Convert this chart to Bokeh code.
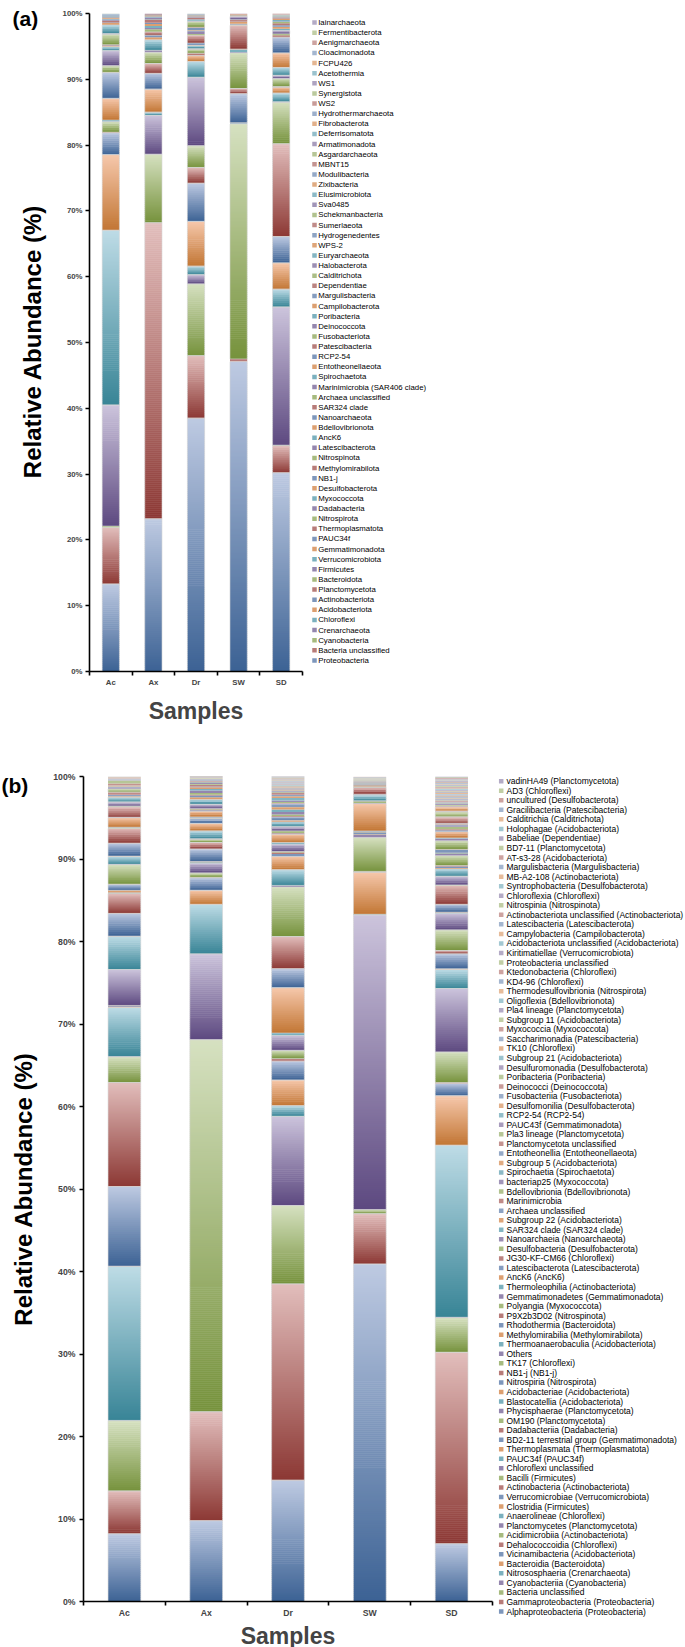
import math
from bokeh.plotting import figure
from bokeh.models import ColumnDataSource, Range1d, FixedTicker, PrintfTickFormatter
from bokeh.layouts import column, row
from bokeh.embed import file_html
from bokeh.resources import INLINE
from bokeh.core.properties import value

FONT = "Liberation Sans"

samples = ["Ac", "Ax", "Dr", "SW", "SD"]

# ---------------- panel (a): phyla, bottom -> top ----------------
phyla = ["Proteobacteria", "Bacteria unclassified", "Cyanobacteria", "Crenarchaeota", "Chloroflexi",
         "Acidobacteriota", "Actinobacteriota", "Planctomycetota", "Bacteroidota", "Firmicutes",
         "Verrucomicrobiota", "Gemmatimonadota", "PAUC34f", "Thermoplasmatota", "Nitrospirota",
         "Dadabacteria", "Myxococcota", "Desulfobacterota", "NB1-j", "Methylomirabilota",
         "Nitrospinota", "Latescibacterota", "AncK6", "Bdellovibrionota", "Nanoarchaeota",
         "SAR324 clade", "Archaea unclassified", "Marinimicrobia (SAR406 clade)", "Spirochaetota",
         "Entotheonellaeota", "RCP2-54", "Patescibacteria", "Fusobacteriota", "Deinococcota",
         "Poribacteria", "Campilobacterota", "Margulisbacteria", "Dependentiae", "Calditrichota",
         "Halobacterota", "Euryarchaeota", "WPS-2", "Hydrogenedentes", "Sumerlaeota",
         "Schekmanbacteria", "Sva0485", "Elusimicrobiota", "Zixibacteria", "Modulibacteria",
         "MBNT15", "Asgardarchaeota", "Armatimonadota", "Deferrisomatota", "Fibrobacterota",
         "Hydrothermarchaeota", "WS2", "Synergistota", "WS1", "Acetothermia", "FCPU426",
         "Cloacimonadota", "Aenigmarchaeota", "Fermentibacterota", "Iainarchaeota"]

a_ac = [13.3, 8.6, 0.2, 18.4, 26.55, 11.5, 3.3, 0.1, 1.6, 0.05,
        0.2, 3.3, 3.9, 0.05, 1.0, 2.3, 0.6, 0.1, 0.1, 0.1,
        1.6, 0.1, 1.3, 0.3, 0.1, 0.2, 0.05, 0.2, 0.1, 0.2,
        0.05, 0.05, 0.02, 0.02, 0.15, 0.02, 0.01, 0.02, 0.01, 0.01,
        0.02, 0.01, 0.01, 0.01, 0.01, 0.01, 0.02, 0.01, 0.01, 0.01,
        0.01, 0.01, 0.01, 0.01, 0.01, 0.01, 0.01, 0.01, 0.01, 0.01,
        0.01, 0.01, 0.01, 0.01]
a_ax = [23.2, 45.0, 10.4, 5.9, 0.5, 3.5, 2.4, 1.5, 1.7, 0.3,
        1.6, 0.4, 0.3, 0.5, 0.4, 0.2, 0.3, 0.3, 0.2, 0.4,
        0.1, 0.3, 0.1, 0.1, 0.05, 0.1, 0.02, 0.1, 0.02, 0.02,
        0.01, 0.01, 0.01, 0.01, 0.01, 0.01, 0.01, 0.01, 0.01, 0.0,
        0.0, 0.0, 0.0, 0.0, 0.0, 0.0, 0.0, 0.0, 0.0, 0.0,
        0.0, 0.0, 0.0, 0.0, 0.0, 0.0, 0.0, 0.0, 0.0, 0.0,
        0.0, 0.0, 0.0, 0.0]
a_dr = [38.5, 9.5, 10.9, 1.4, 1.3, 6.8, 5.8, 2.4, 3.3, 10.4,
        2.4, 0.9, 0.05, 0.3, 0.6, 0.1, 0.5, 0.05, 0.3, 1.2,
        0.2, 0.4, 0.1, 0.1, 0.3, 0.1, 0.9, 0.1, 0.1, 0.1,
        0.05, 0.2, 0.05, 0.05, 0.05, 0.05, 0.05, 0.1, 0.02, 0.02,
        0.02, 0.01, 0.02, 0.01, 0.02, 0.01, 0.02, 0.01, 0.01, 0.01,
        0.01, 0.01, 0.01, 0.01, 0.01, 0.01, 0.01, 0.01, 0.01, 0.01,
        0.01, 0.01, 0.01, 0.01]
a_sw = [47.1, 0.4, 35.7, 0.1, 0.05, 0.05, 4.4, 0.8, 5.4, 0.1,
        0.4, 0.05, 0.05, 3.6, 0.1, 0.05, 0.1, 0.3, 0.05, 0.2,
        0.05, 0.5, 0.05, 0.05, 0.05, 0.05, 0.02, 0.03, 0.02, 0.02,
        0.02, 0.01, 0.01, 0.01, 0.01, 0.01, 0.01, 0.01, 0.01, 0.01,
        0.01, 0.01, 0.01, 0.01, 0.01, 0.0, 0.0, 0.0, 0.0, 0.0,
        0.0, 0.0, 0.0, 0.0, 0.0, 0.0, 0.0, 0.0, 0.0, 0.0,
        0.0, 0.0, 0.0, 0.0]
a_sd = [30.2, 4.1, 0.1, 21.0, 2.7, 4.0, 4.0, 14.1, 6.3, 0.1,
        1.3, 0.9, 0.05, 0.05, 1.2, 0.5, 1.2, 2.2, 2.4, 0.3,
        0.2, 0.5, 0.3, 0.3, 0.2, 0.3, 0.2, 0.1, 0.2, 0.2,
        0.05, 0.05, 0.03, 0.05, 0.05, 0.05, 0.03, 0.03, 0.03, 0.03,
        0.03, 0.03, 0.03, 0.02, 0.02, 0.02, 0.02, 0.02, 0.02, 0.02,
        0.02, 0.02, 0.02, 0.02, 0.02, 0.02, 0.01, 0.01, 0.01, 0.01,
        0.01, 0.01, 0.01, 0.01]

# ---------------- panel (b): classes, bottom -> top ----------------
classes = ["Alphaproteobacteria (Proteobacteria)", "Gammaproteobacteria (Proteobacteria)",
           "Bacteria unclassified", "Cyanobacteriia (Cyanobacteria)", "Nitrososphaeria (Crenarchaeota)",
           "Bacteroidia (Bacteroidota)", "Vicinamibacteria (Acidobacteriota)", "Dehalococcoidia (Chloroflexi)",
           "Acidimicrobiia (Actinobacteriota)", "Planctomycetes (Planctomycetota)", "Anaerolineae (Chloroflexi)",
           "Clostridia (Firmicutes)", "Verrucomicrobiae (Verrucomicrobiota)", "Actinobacteria (Actinobacteriota)",
           "Bacilli (Firmicutes)", "Chloroflexi unclassified", "PAUC34f (PAUC34f)",
           "Thermoplasmata (Thermoplasmatota)", "BD2-11 terrestrial group (Gemmatimonadota)",
           "Dadabacteriia (Dadabacteria)", "OM190 (Planctomycetota)", "Phycisphaerae (Planctomycetota)",
           "Blastocatellia (Acidobacteriota)", "Acidobacteriae (Acidobacteriota)", "Nitrospiria (Nitrospirota)",
           "NB1-j (NB1-j)", "TK17 (Chloroflexi)", "Others", "Thermoanaerobaculia (Acidobacteriota)",
           "Methylomirabilia (Methylomirabilota)", "Rhodothermia (Bacteroidota)", "P9X2b3D02 (Nitrospinota)",
           "Polyangia (Myxococcota)", "Gemmatimonadetes (Gemmatimonadota)", "Thermoleophilia (Actinobacteriota)",
           "AncK6 (AncK6)", "Latescibacterota (Latescibacterota)", "JG30-KF-CM66 (Chloroflexi)",
           "Desulfobacteria (Desulfobacterota)", "Nanoarchaeia (Nanoarchaeota)", "SAR324 clade (SAR324 clade)",
           "Subgroup 22 (Acidobacteriota)", "Archaea unclassified", "Marinimicrobia",
           "Bdellovibrionia (Bdellovibrionota)", "bacteriap25 (Myxococcota)", "Spirochaetia (Spirochaetota)",
           "Subgroup 5 (Acidobacteriota)", "Entotheonellia (Entotheonellaeota)", "Planctomycetota unclassified",
           "Pla3 lineage (Planctomycetota)", "PAUC43f (Gemmatimonadota)", "RCP2-54 (RCP2-54)",
           "Desulfomonilia (Desulfobacterota)", "Fusobacteriia (Fusobacteriota)", "Deinococci (Deinococcota)",
           "Poribacteria (Poribacteria)", "Desulfuromonadia (Desulfobacterota)", "Subgroup 21 (Acidobacteriota)",
           "TK10 (Chloroflexi)", "Saccharimonadia (Patescibacteria)", "Myxococcia (Myxococcota)",
           "Subgroup 11 (Acidobacteriota)", "Pla4 lineage (Planctomycetota)", "Oligoflexia (Bdellovibrionota)",
           "Thermodesulfovibrionia (Nitrospirota)", "KD4-96 (Chloroflexi)", "Ktedonobacteria (Chloroflexi)",
           "Proteobacteria unclassified", "Kiritimatiellae (Verrucomicrobiota)",
           "Acidobacteriota unclassified (Acidobacteriota)", "Campylobacteria (Campilobacterota)",
           "Latescibacteria (Latescibacterota)", "Actinobacteriota unclassified (Actinobacteriota)",
           "Nitrospinia (Nitrospinota)", "Chloroflexia (Chloroflexi)", "Syntrophobacteria (Desulfobacterota)",
           "MB-A2-108 (Actinobacteriota)", "Margulisbacteria (Margulisbacteria)", "AT-s3-28 (Acidobacteriota)",
           "BD7-11 (Planctomycetota)", "Babeliae (Dependentiae)", "Holophagae (Acidobacteriota)",
           "Calditrichia (Calditrichota)", "Gracilibacteria (Patescibacteria)", "uncultured (Desulfobacterota)",
           "AD3 (Chloroflexi)", "vadinHA49 (Planctomycetota)"]

b_ac = [8.2, 5.2, 8.5, 0.05, 18.65, 0.05, 9.65, 12.6, 3.1, 0.05,
        5.95, 0.05, 0.1, 0.05, 0.05, 4.35, 4.0, 0.05, 2.75, 2.4,
        0.05, 0.05, 0.05, 0.25, 0.7, 0.05, 2.35, 0.05, 0.95, 0.05,
        1.55, 1.8, 0.05, 0.05, 0.05, 1.15, 0.05, 1.25, 0.1, 0.5,
        0.6, 0.1, 0.2, 0.3, 0.4, 0.2, 0.1, 0.1, 0.05, 0.2,
        0.3, 0.05, 0.05, 0.02, 0.02, 0.02, 0.01, 0.02, 0.02, 0.01,
        0.02, 0.01, 0.02, 0.01, 0.01, 0.02, 0.01, 0.01, 0.02, 0.01,
        0.01, 0.01, 0.02, 0.01, 0.01, 0.01, 0.01, 0.02, 0.01, 0.01,
        0.01, 0.01, 0.01, 0.01, 0.01, 0.01, 0.01, 0.01]
b_ax = [9.8, 13.2, 45.1, 10.4, 6.0, 1.7, 1.5, 0.05, 0.55, 1.2,
        0.1, 0.1, 1.5, 0.8, 0.4, 0.05, 0.95, 0.9, 0.6, 0.05,
        0.05, 0.05, 0.05, 0.7, 0.1, 0.1, 0.1, 0.5, 0.6, 0.3,
        0.2, 0.1, 0.2, 0.3, 0.2, 0.2, 0.1, 0.2, 0.1, 0.1,
        0.1, 0.05, 0.05, 0.05, 0.05, 0.05, 0.02, 0.02, 0.02, 0.02,
        0.02, 0.02, 0.02, 0.02, 0.01, 0.01, 0.02, 0.01, 0.01, 0.01,
        0.01, 0.01, 0.01, 0.02, 0.01, 0.01, 0.01, 0.01, 0.01, 0.01,
        0.01, 0.01, 0.01, 0.01, 0.01, 0.01, 0.01, 0.01, 0.01, 0.01,
        0.01, 0.01, 0.01, 0.01, 0.01, 0.01, 0.01, 0.01]
b_dr = [14.7, 23.8, 9.5, 10.8, 1.3, 3.1, 2.3, 0.3, 1.0, 1.8,
        0.3, 5.5, 2.3, 3.9, 6.0, 0.2, 1.9, 1.6, 0.3, 0.2,
        0.1, 0.9, 0.2, 1.0, 0.1, 0.05, 0.25, 0.5, 0.6, 0.2,
        0.4, 0.1, 0.2, 0.3, 0.3, 0.3, 0.4, 0.1, 0.1, 0.2,
        0.3, 0.2, 0.2, 0.2, 0.1, 0.1, 0.1, 0.1, 0.05, 0.05,
        0.05, 0.08, 0.05, 0.05, 0.04, 0.05, 0.06, 0.04, 0.05, 0.04,
        0.05, 0.04, 0.03, 0.05, 0.04, 0.03, 0.04, 0.05, 0.03, 0.04,
        0.03, 0.04, 0.03, 0.05, 0.03, 0.04, 0.03, 0.04, 0.03, 0.05,
        0.04, 0.03, 0.05, 0.04, 0.03, 0.05, 0.04, 0.03]
b_sw = [40.9, 6.1, 0.5, 35.7, 0.1, 5.1, 0.05, 0.05, 4.1, 0.3,
        0.05, 0.05, 0.2, 0.05, 0.05, 0.05, 0.05, 3.3, 0.05, 0.05,
        0.2, 0.05, 0.7, 0.05, 0.05, 0.8, 0.05, 0.05, 0.05, 0.04,
        0.04, 0.05, 0.03, 0.04, 0.03, 0.04, 0.03, 0.02, 0.03, 0.02,
        0.03, 0.02, 0.03, 0.02, 0.02, 0.03, 0.02, 0.02, 0.02, 0.02,
        0.02, 0.02, 0.02, 0.02, 0.02, 0.02, 0.02, 0.02, 0.02, 0.02,
        0.02, 0.02, 0.02, 0.02, 0.02, 0.02, 0.02, 0.02, 0.02, 0.02,
        0.01, 0.01, 0.01, 0.01, 0.01, 0.01, 0.01, 0.01, 0.01, 0.01,
        0.01, 0.01, 0.01, 0.01, 0.01, 0.01, 0.01, 0.01]
b_sd = [7.0, 23.2, 4.2, 0.05, 20.85, 6.0, 1.5, 0.1, 3.7, 7.7,
        2.3, 0.1, 1.8, 0.4, 2.5, 2.0, 0.1, 0.05, 0.95, 2.3,
        0.05, 1.05, 0.9, 0.1, 0.2, 0.1, 1.2, 0.2, 0.1, 0.05,
        0.35, 0.05, 1.05, 0.3, 0.05, 0.75, 0.2, 0.1, 0.3, 0.2,
        0.05, 0.05, 0.1, 0.8, 0.6, 0.05, 0.05, 0.5, 0.05, 0.1,
        0.1, 0.12, 0.08, 0.1, 0.1, 0.1, 0.08, 0.1, 0.1, 0.1,
        0.08, 0.1, 0.1, 0.1, 0.08, 0.1, 0.1, 0.08, 0.1, 0.12,
        0.08, 0.1, 0.08, 0.1, 0.1, 0.08, 0.1, 0.08, 0.1, 0.08,
        0.08, 0.1, 0.08, 0.1, 0.08, 0.1, 0.08, 0.1]

# ---------------- colours (Office-style families, vertical gradient) ----------------
LIGHT = [(190, 202, 226), (226, 190, 188), (214, 225, 193), (204, 196, 220), (190, 220, 230), (246, 200, 172)]
DARK = [(60, 98, 148), (140, 56, 52), (118, 146, 60), (93, 73, 128), (56, 132, 150), (194, 118, 52)]
WHITE = (255, 255, 255)


def mix(a, b, t):
    return tuple(a[k] + (b[k] - a[k]) * t for k in range(3))


def hexc(c):
    return "#%02x%02x%02x" % tuple(int(round(v)) for v in c)


def endpoints(i):
    fam = i % 6
    cyc = i // 6
    f = min(0.3, max(0, cyc - 5) * 0.06)
    return mix(LIGHT[fam], WHITE, f), mix(DARK[fam], WHITE, f)


def no_align(p):
    try:
        p.frame_align = False
    except Exception:
        pass
    return p


def blank_fig(width, height, xr, yr):
    p = figure(width=width, height=height, x_range=xr, y_range=yr,
               output_backend="svg", toolbar_location=None, min_border=0,
               x_axis_location=None, y_axis_location=None,
               background_fill_color="white", border_fill_color="white")
    p.outline_line_color = None
    p.xgrid.grid_line_color = None
    p.ygrid.grid_line_color = None
    return no_align(p)


def make_tag(width, height, tag, tag_x, tag_y, title_x, title_y, tag_font, title_font):
    # narrow strip left of each chart, in pixel-like coordinates (y downward)
    p = blank_fig(width, height, Range1d(0, width), Range1d(height, 0))
    p.text(x=[tag_x], y=[tag_y], text=[tag], text_font=value(FONT), text_font_style="bold",
           text_font_size=value(tag_font), text_baseline="alphabetic", text_align="left",
           text_color="black")
    p.text(x=[title_x], y=[title_y], text=["Relative Abundance (%)"], angle=math.pi / 2,
           text_font=value(FONT), text_font_style="bold", text_font_size=value(title_font),
           text_baseline="middle", text_align="center", text_color="black")
    return p


def make_chart(series, frame_w, frame_h, b_left, b_top, b_bottom, bar_w,
               tick_font, xlab_font, xlab_standoff, ylab_standoff_tick):
    p = figure(frame_width=frame_w, frame_height=frame_h,
               x_range=Range1d(0, len(samples)), y_range=Range1d(0, 100),
               output_backend="svg", toolbar_location=None,
               min_border_left=b_left, min_border_right=4, min_border_top=b_top, min_border_bottom=b_bottom,
               background_fill_color="white", border_fill_color="white")
    no_align(p)
    p.outline_line_color = None
    p.xgrid.grid_line_color = None
    p.ygrid.grid_line_color = None

    ppu = frame_h / 100.0
    xs, bots, tops, cols = [], [], [], []
    ox, ob, ot = [], [], []
    for j, vals in enumerate(series):
        base = 0.0
        for i, v in enumerate(vals):
            if v <= 0:
                continue
            light, dark = endpoints(i)
            n = max(1, int(round(v * ppu / 2.0)))
            for k in range(n):
                b = base + v * k / n
                t = base + v * (k + 1) / n
                if k < n - 1:
                    t = t + 0.6 / ppu
                xs.append(j + 0.5)
                bots.append(b)
                tops.append(t)
                cols.append(hexc(mix(dark, light, (k + 0.5) / n)))
            if v * ppu >= 3:
                ox.append(j + 0.5)
                ob.append(base)
                ot.append(base + v)
            base += v
    src = ColumnDataSource(dict(x=xs, bottom=bots, top=tops, color=cols))
    p.vbar(x="x", width=bar_w, bottom="bottom", top="top", source=src,
           fill_color="color", line_color=None)
    osrc = ColumnDataSource(dict(x=ox, bottom=ob, top=ot))
    p.vbar(x="x", width=bar_w, bottom="bottom", top="top", source=osrc,
           fill_color=None, line_color="#d8d8d8", line_width=0.6)

    ya = p.yaxis[0]
    ya.ticker = FixedTicker(ticks=list(range(0, 101, 10)))
    ya.formatter = PrintfTickFormatter(format="%d%%")
    ya.major_label_text_font = FONT
    ya.major_label_text_font_style = "bold"
    ya.major_label_text_font_size = tick_font
    ya.major_label_standoff = ylab_standoff_tick
    ya.axis_line_width = 1.6
    ya.major_tick_line_width = 1.6
    ya.major_tick_out = 4
    ya.major_tick_in = 0
    ya.minor_tick_line_color = None

    xa = p.xaxis[0]
    centres = [j + 0.5 for j in range(len(samples))]
    xa.ticker = FixedTicker(ticks=centres, minor_ticks=list(range(len(samples) + 1)))
    xa.major_label_overrides = {c: s for c, s in zip(centres, samples)}
    xa.major_label_text_font = FONT
    xa.major_label_text_font_style = "bold"
    xa.major_label_text_font_size = tick_font
    xa.major_label_standoff = 2
    xa.major_tick_line_color = None
    xa.major_tick_out = 4
    xa.major_tick_in = 0
    xa.minor_tick_line_color = "black"
    xa.minor_tick_line_width = 1.6
    xa.minor_tick_out = 4
    xa.minor_tick_in = 0
    xa.axis_line_width = 1.6
    xa.axis_label = "Samples"
    xa.axis_label_text_font = FONT
    xa.axis_label_text_font_style = "bold"
    xa.axis_label_text_font_size = xlab_font
    xa.axis_label_standoff = xlab_standoff
    return p


def make_legend(names, width, height, page_top, first_y, last_y, marker_x, text_x, font_size, msize):
    n = len(names)
    s = (last_y - first_y) / (n - 1)
    ymax = (n - 1) + (first_y - page_top) / s
    ymin = ymax - height / s
    p = blank_fig(width, height, Range1d(0, width), Range1d(ymin, ymax))
    mcols = []
    for i in range(n):
        light, dark = endpoints(i)
        mcols.append(hexc(mix(dark, light, 0.5)))
    src = ColumnDataSource(dict(x=[marker_x] * n, tx=[text_x] * n, y=list(range(n)), name=names, color=mcols))
    p.rect(x="x", y="y", width=msize, height=msize, width_units="screen", height_units="screen",
           source=src, fill_color="color", line_color=None)
    p.text(x="tx", y="y", text="name", source=src, text_font=value(FONT),
           text_font_size=value(font_size), text_baseline="middle", text_align="left", text_color="black")
    return p


# ---- panel (a): page rows 0..730 ----
A_H = 730
ta = make_tag(50, A_H, "(a)", 12, 17.5, 31.7, 341, "21px", "24px")
pa = make_chart([a_ac, a_ax, a_dr, a_sw, a_sd], frame_w=213, frame_h=658,
                b_left=39, b_top=13, b_bottom=59, bar_w=0.405, tick_font="7.8px",
                xlab_font="23px", xlab_standoff=8, ylab_standoff_tick=3)
la = make_legend(phyla, width=378, height=A_H, page_top=0, first_y=22, last_y=660,
                 marker_x=8, text_x=11.7, font_size="7.8px", msize=4.5)

# ---- panel (b): page rows 730..1646 ----
B_TOP = 730
B_H = 916
tb = make_tag(45, B_H, "(b)", 1, 785 - B_TOP, 22.5, 1188.5 - B_TOP, "21px", "24px")
pb = make_chart([b_ac, b_ax, b_dr, b_sw, b_sd], frame_w=409, frame_h=825,
                b_left=38, b_top=46, b_bottom=45, bar_w=0.40, tick_font="8.7px",
                xlab_font="23px", xlab_standoff=2, ylab_standoff_tick=4)
lb = make_legend(classes, width=188, height=B_H, page_top=B_TOP, first_y=780.7, last_y=1611,
                 marker_x=4.7, text_x=10, font_size="8.5px", msize=4.5)

layout = column(row(ta, pa, la), row(tb, pb, lb))
open("out.html", "w").write(file_html(layout, INLINE))
